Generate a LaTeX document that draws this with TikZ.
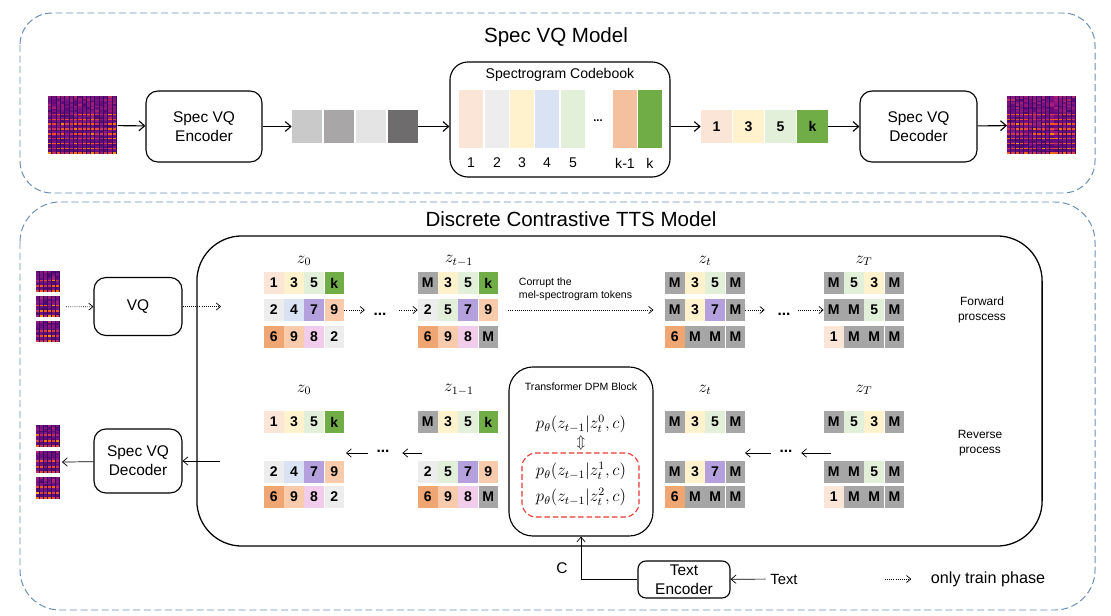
\documentclass[tikz,border=0pt]{standalone}
\usepackage{fontspec}
\setmainfont{Liberation Sans}
\usetikzlibrary{arrows.meta,positioning}

\definecolor{frameblue}{HTML}{6A8DB5}
\definecolor{dpmred}{HTML}{E53935}
\definecolor{specbg}{HTML}{2E0B5E}
\definecolor{tok1}{HTML}{FBE5D6}
\definecolor{tok2}{HTML}{EDEDED}
\definecolor{tok3}{HTML}{FFF2CC}
\definecolor{tok4}{HTML}{DAE3F3}
\definecolor{tok5}{HTML}{E2F0D9}
\definecolor{tok6}{HTML}{EFA672}
\definecolor{tok7}{HTML}{B4A0DC}
\definecolor{tok8}{HTML}{F2CDEB}
\definecolor{tok9}{HTML}{F8CBAD}
\definecolor{tokk}{HTML}{70AD47}
\definecolor{tokM}{HTML}{A6A6A6}
\definecolor{tokkm}{HTML}{F4C09E}
\definecolor{emb1}{HTML}{C9C9C9}
\definecolor{emb2}{HTML}{A8A6A6}
\definecolor{emb3}{HTML}{E4E4E4}
\definecolor{emb4}{HTML}{6E6C6C}

% fake mel-spectrogram: name, left, top, width, height, columns, rows
\newcommand{\spectro}[7]{%
  \node[inner sep=0, minimum width=#4*0.025cm, minimum height=#5*0.025cm,
        anchor=north west, fill=specbg] (#1) at (#2,#3) {};
  \pgfmathsetmacro\specw{#4/#6}
  \pgfmathsetmacro\spech{#5/#7}
  \begin{scope}
    \clip (#2,#3) rectangle ++(#4,#5);
    \foreach \i in {1,...,#6}{
      \pgfmathsetmacro\colf{0.5+0.5*rnd}
      \foreach \j in {1,...,#7}{
        \pgfmathsetmacro\fr{\j/#7}
        \pgfmathsetmacro\lev{min(0.92,0.2+0.12*rnd+\colf*(0.25*(1-\fr)*rnd+(mod(\j,3)==0)*(\fr>0.3)*(0.35+0.25*\fr)*(0.5+0.5*rnd)))}
        \pgfmathsetmacro\specr{min(1,1.5*\lev)}
        \pgfmathsetmacro\specg{\lev^2.5}
        \pgfmathsetmacro\specb{max(0,min(1,0.1+0.4*sin(\lev*270)))}
        \definecolor{speccol}{rgb}{\specr,\specg,\specb}
        \fill[speccol] ({#2+(\i-1)*\specw},{#3+(\j-1)*\spech}) rectangle ++(0.78*\specw,\spech+0.2);
      }
    }
  \end{scope}
}

% one row of four tokens: name, left, centre y, values
\newcommand{\tokrow}[4]{%
  \foreach \v [count=\i from 0] in {#4}
    \node[tok, fill=tok\v] (#1-\i) at ({#2+9.75+20.2*\i},#3) {\v};
}

\begin{document}
\begin{tikzpicture}
  [x=0.025cm, y=-0.025cm,
   vqframe/.style={draw=frameblue, dash pattern=on 5pt off 2.5pt, line width=0.7pt},
   block/.style={draw, line width=0.8pt, rounded corners=0.3cm, align=center,
                 inner sep=0, font=\fontsize{11}{13.5}\selectfont},
   tok/.style={inner sep=0, minimum width=0.4875cm, minimum height=0.55cm,
               font=\fontsize{10}{12}\selectfont\bfseries},
   codebar/.style={inner sep=0, minimum width=0.6cm, minimum height=1.45cm},
   flow/.style={-{Straight Barb[length=4pt,width=7pt]}, line width=0.8pt},
   back/.style={-{Straight Barb[length=3.5pt,width=6pt]}, line width=0.5pt},
   train/.style={-{Straight Barb[length=3pt,width=5pt]}, densely dotted, line width=0.5pt},
   zlabel/.style={font=\fontsize{12}{14}\selectfont},
   formula/.style={font=\fontsize{12}{14}\selectfont, inner sep=0},
   ellip/.style={inner sep=0, font=\fontsize{11}{12}\selectfont\bfseries},
   sidenote/.style={font=\fontsize{8.5}{10.5}\selectfont, align=center},
   small/.style={font=\fontsize{7.5}{9}\selectfont}]

  \useasboundingbox (0,0) rectangle (1111,616);
  \pgfmathsetseed{11}

  % Spec VQ model
  \draw[vqframe, rounded corners=0.8cm] (20,13) rectangle (1095,193);
  \node[font=\fontsize{14.6}{17}\selectfont] (vqtitle) at (556,37) {Spec VQ Model};

  \spectro{specin}{48}{96}{69}{58}{16}{36}
  \node[block, minimum width=2.9cm, minimum height=1.775cm] (enc) at (204,126.5) {Spec VQ\\Encoder};
  \foreach \c [count=\i from 0] in {emb1,emb2,emb3,emb4}
    \node[inner sep=0, minimum width=0.75cm, minimum height=0.8cm, fill=\c] (emb-\i) at ({307+32*\i},126.5) {};

  \node[draw, line width=0.8pt, rounded corners=0.45cm, minimum width=5.5cm, minimum height=2.875cm] (book) at (560,119.5) {};
  \node[font=\fontsize{10}{12}\selectfont] (booktitle) at (560,75) {Spectrogram Codebook};
  \foreach \c/\x/\l [count=\i] in {tok1/471/1,tok2/497/2,tok3/522/3,tok4/547/4,tok5/573/5,tokkm/625/k-1,tokk/650/k}{
    \node[codebar, fill=\c] (code-\i) at (\x,119) {};
    \node[font=\fontsize{10}{12}\selectfont] (codelbl-\i) at (\x,163) {\l};
  }
  \node[ellip, font=\fontsize{8}{10}\selectfont\bfseries] (codedots) at (598,121) {...};

  \foreach \v [count=\i from 0] in {1,3,5,k}
    \node[tok, minimum width=0.775cm, minimum height=0.8cm, fill=tok\v] (idx-\i) at ({716.5+32*\i},126.5) {\v};
  \node[block, minimum width=2.925cm, minimum height=1.775cm] (dec) at (918.5,126.5) {Spec VQ\\Decoder};
  \spectro{specout}{1007}{96}{69}{58}{16}{36}

  \draw[flow] (specin) -- (enc);
  \draw[flow] (enc) -- (emb-0);
  \draw[flow] (emb-3.east) -- (emb-3.east -| book.west);
  \draw[flow] (book.east |- idx-0) -- (idx-0.west);
  \draw[flow] (idx-3) -- (dec);
  \draw[flow] (dec) -- (specout);

  % Discrete contrastive TTS model
  \draw[vqframe, rounded corners=1cm] (20,202) rectangle (1095,610);
  \node[font=\fontsize{14.6}{17}\selectfont] (ttstitle) at (571,219) {Discrete Contrastive TTS Model};
  \node[draw, line width=0.9pt, rounded corners=1.125cm, minimum width=21.125cm, minimum height=7.75cm] (tts) at (619.5,391) {};

  \spectro{melin-1}{36}{271}{24}{21}{6}{12}
  \spectro{melin-2}{36}{296}{24}{21}{6}{12}
  \spectro{melin-3}{36}{321}{24}{21}{6}{12}
  \spectro{melout-1}{36}{425}{24}{22}{6}{12}
  \spectro{melout-2}{36}{451}{24}{22}{6}{12}
  \spectro{melout-3}{36}{477}{24}{22}{6}{12}

  \node[block, minimum width=2.2cm, minimum height=1.45cm] (vq) at (138,306.5) {VQ};
  \node[block, minimum width=2.2cm, minimum height=1.6cm] (dec2) at (138,461) {Spec VQ\\Decoder};
  \coordinate (vqin) at (221,306.5);
  \coordinate (ttsout) at (220,461);
  \draw[train, shorten <=4pt] (melin-2) -- (vq);
  \draw[train] (vq) -- (vqin);
  \draw[back] (ttsout) -- (dec2);
  \draw[back, shorten >=1pt] (dec2) -- (melout-2);

  % forward process
  \tokrow{fwd0a}{264}{283}{1,3,5,k}
  \tokrow{fwd0b}{264}{310}{2,4,7,9}
  \tokrow{fwd0c}{264}{337}{6,9,8,2}
  \tokrow{fwd1a}{418}{283}{M,3,5,k}
  \tokrow{fwd1b}{418}{310}{2,5,7,9}
  \tokrow{fwd1c}{418}{337}{6,9,8,M}
  \tokrow{fwdta}{665}{283}{M,3,5,M}
  \tokrow{fwdtb}{665}{310}{M,3,7,M}
  \tokrow{fwdtc}{665}{337}{6,M,M,M}
  \tokrow{fwdTa}{824}{283}{M,5,3,M}
  \tokrow{fwdTb}{824}{310}{M,M,5,M}
  \tokrow{fwdTc}{824}{337}{1,M,M,M}
  \node[zlabel] (fz0) at (304,261) {$z_0$};
  \node[zlabel] (fz1) at (459,261) {$z_{t-1}$};
  \node[zlabel] (fzt) at (705,261) {$z_t$};
  \node[zlabel] (fzT) at (864,261) {$z_T$};

  \node[ellip] (fdotsA) at (380,314) {...};
  \node[ellip] (fdotsB) at (784,314) {...};
  \draw[train, shorten >=6pt] (fwd0b-3.east) -- (fwd0b-3.east -| fdotsA.west);
  \draw[train, shorten <=9pt] (fdotsA.east |- fwd1b-0) -- (fwd1b-0.west);
  \draw[train, shorten <=7pt, shorten >=8pt] (fwd1b-3) -- (fwdtb-0);
  \draw[train, shorten >=9pt] (fwdtb-3.east) -- (fwdtb-3.east -| fdotsB.west);
  \draw[train, shorten <=5pt] (fdotsB.east |- fwdTb-0) -- (fwdTb-0.west);
  \node[small, align=left, anchor=west] (corrupt) at (514,289) {Corrupt the\\mel-spectrogram tokens};
  \node[sidenote] (fwdnote) at (982,310) {Forward\\proscess};

  % reverse process
  \tokrow{rev0a}{264}{422}{1,3,5,k}
  \tokrow{rev0b}{264}{472}{2,4,7,9}
  \tokrow{rev0c}{264}{497}{6,9,8,2}
  \tokrow{rev1a}{418}{422}{M,3,5,k}
  \tokrow{rev1b}{418}{472}{2,5,7,9}
  \tokrow{rev1c}{418}{497}{6,9,8,M}
  \tokrow{revta}{665}{422}{M,3,5,M}
  \tokrow{revtb}{665}{472}{M,3,7,M}
  \tokrow{revtc}{665}{497}{6,M,M,M}
  \tokrow{revTa}{824}{422}{M,5,3,M}
  \tokrow{revTb}{824}{472}{M,M,5,M}
  \tokrow{revTc}{824}{497}{1,M,M,M}
  \node[zlabel] (rz0) at (304,390) {$z_0$};
  \node[zlabel] (rz1) at (459,390) {$z_{1-1}$};
  \node[zlabel] (rzt) at (705,390) {$z_t$};
  \node[zlabel] (rzT) at (864,390) {$z_T$};

  \node[ellip] (rdotsA) at (383,451) {...};
  \node[ellip] (rdotsB) at (786,451) {...};
  \coordinate (revA) at (346,453);
  \coordinate (revB) at (422,453);
  \coordinate (revC) at (745,453);
  \coordinate (revD) at (831,453);
  \draw[back, shorten <=6pt] (rdotsA.west |- revA) -- (revA);
  \draw[back, shorten >=9pt] (revB) -- (rdotsA.east |- revB);
  \draw[back, shorten <=6pt] (rdotsB.west |- revC) -- (revC);
  \draw[back, shorten >=6pt] (revD) -- (rdotsB.east |- revD);
  \node[sidenote] (revnote) at (980,443) {Reverse\\process};

  % transformer block
  \node[draw, line width=0.8pt, rounded corners=0.6cm, minimum width=3.6cm, minimum height=4.225cm] (dpm) at (581,451.5) {};
  \node[small] (dpmtitle) at (581,387) {Transformer DPM Block};
  \node[formula] (pz0) at (581,424) {$p_\theta(z_{t-1}|z_t^0,c)$};
  \node[inner sep=0] (swap) at (581,443) {$\Updownarrow$};
  \node[draw=dpmred, dash pattern=on 4pt off 2pt, line width=0.8pt, rounded corners=0.35cm,
        minimum width=2.925cm, minimum height=1.6cm] (cands) at (580.5,485) {};
  \node[formula] (pz1) at (581,471) {$p_\theta(z_{t-1}|z_t^1,c)$};
  \node[formula] (pz2) at (581,497) {$p_\theta(z_{t-1}|z_t^2,c)$};

  % text condition
  \node[block, rounded corners=0.2cm, minimum width=2.3cm, minimum height=0.925cm] (txtenc) at (684,579.5) {Text\\Encoder};
  \node[font=\fontsize{10.5}{12}\selectfont] (txtin) at (784,579) {Text};
  \node[font=\fontsize{11}{13}\selectfont] (cond) at (562,568) {C};
  \draw[back] (txtin) -- (txtenc);
  \draw[back] (txtenc.west) -| (dpm.south);

  % legend
  \coordinate (legtail) at (885,579);
  \node[font=\fontsize{11.5}{13}\selectfont, anchor=west] (legend) at (926,579) {only train phase};
  \draw[train, shorten >=10.5pt] (legtail) -- (legend.west);
\end{tikzpicture}
\end{document}
